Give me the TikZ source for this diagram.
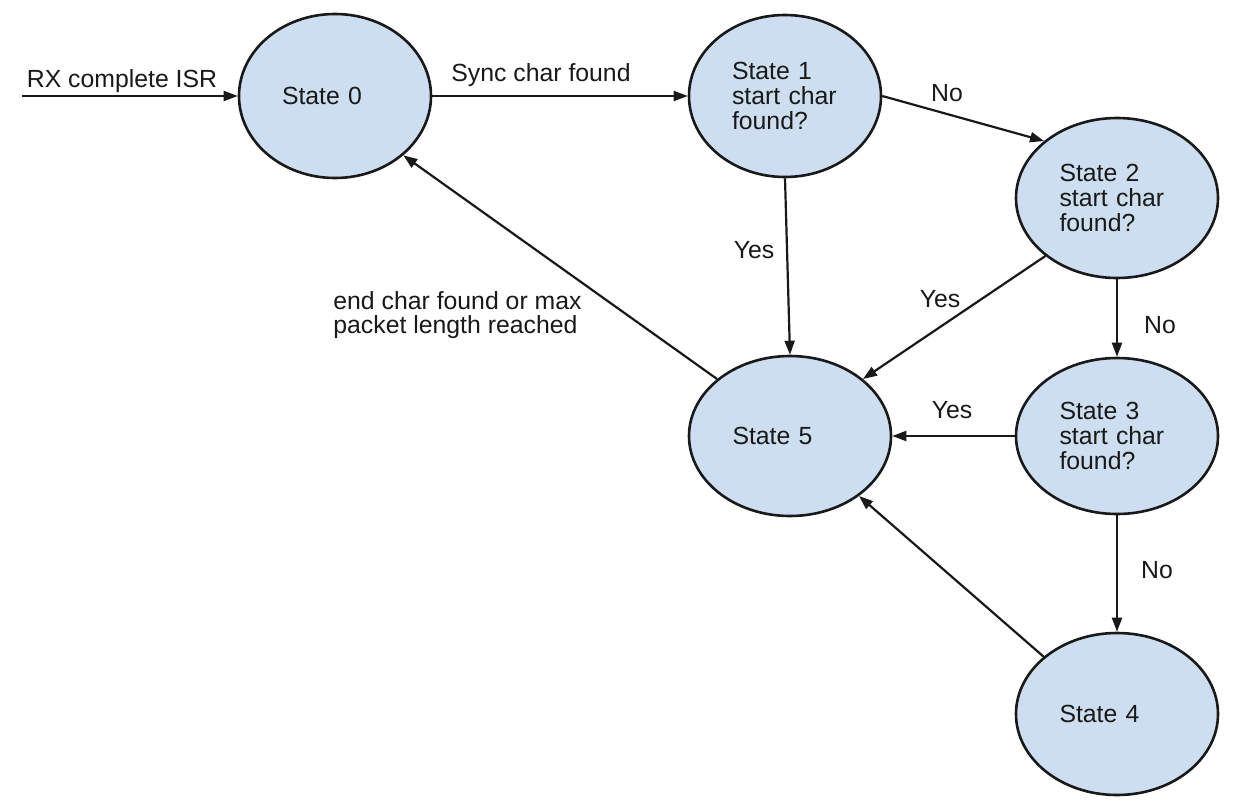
\documentclass[tikz,border=0pt]{standalone}
\usepackage{fontspec}
\setmainfont{Liberation Sans}
\usetikzlibrary{shapes.geometric,arrows.meta}
\definecolor{statefill}{RGB}{205,222,240}
\definecolor{ink}{RGB}{25,25,25}
\begin{document}
\begin{tikzpicture}[x=0.5pt,y=-0.5pt,
  every node/.style={font=\fontsize{12.4}{12.5}\selectfont, text=ink},
  state/.style={ellipse, draw=ink, line width=1.3pt, fill=statefill, inner sep=0pt,
    text width=57.5pt, align=left, minimum width=101pt, minimum height=80pt},
  conn/.style={draw=ink, line width=1.1pt, -{Triangle[length=7pt,width=5pt]}},
  lbl/.style={inner sep=0pt, anchor=base}]
\useasboundingbox[fill=white] (0,0) rectangle (1238,803);

% states
\node[state, minimum width=96pt, minimum height=82pt, text width=53pt] (S0) at (335,96) {State 0};
\node[state, minimum width=96pt, minimum height=81pt, text width=53pt] (S1) at (785,96) {State 1\\start char\\found?};
\node[state] (S2) at (1117,198) {State 2\\start char\\found?};
\node[state, minimum height=78pt] (S3) at (1117,436) {State 3\\start char\\found?};
\node[state, minimum height=81pt] (S4) at (1117,714) {State 4};
\node[state] (S5) at (790,436) {State 5};

% connectors
\coordinate (rx) at (22,96);
\draw[conn] (rx) -- (S0.west);
\draw[conn] (S0) -- (S1);
\draw[conn] (S1.east) -- (S2.142);
\draw[conn] (S1.south) -- (S5.north);
\draw[conn] (S2.219) -- (S5.38);
\draw[conn] (S2.south) -- (S3.north);
\draw[conn] (S3.west) -- (S5.east);
\draw[conn] (S3.south) -- (S4.north);
\draw[conn] (S4.142) -- (S5.319);
\draw[conn] (S5.142) -- (S0.319);

% labels
\node[lbl] (lrx) at (122,87) {RX complete ISR};
\node[lbl] (lsync) at (541,81) {Sync char found};
\node[lbl] (lno1) at (947,101) {No};
\node[lbl] (lyes1) at (754,258) {Yes};
\node[lbl] (lyes2) at (940,307) {Yes};
\node[lbl] (lno2) at (1160,333) {No};
\node[lbl] (lyes3) at (952,418) {Yes};
\node[lbl] (lno3) at (1157,578) {No};
\node[inner sep=0pt, anchor=north west, align=left, font=\fontsize{12.4}{12}\selectfont] (lend) at (333,291)
  {end char found or max\\packet length reached};
\end{tikzpicture}
\end{document}
